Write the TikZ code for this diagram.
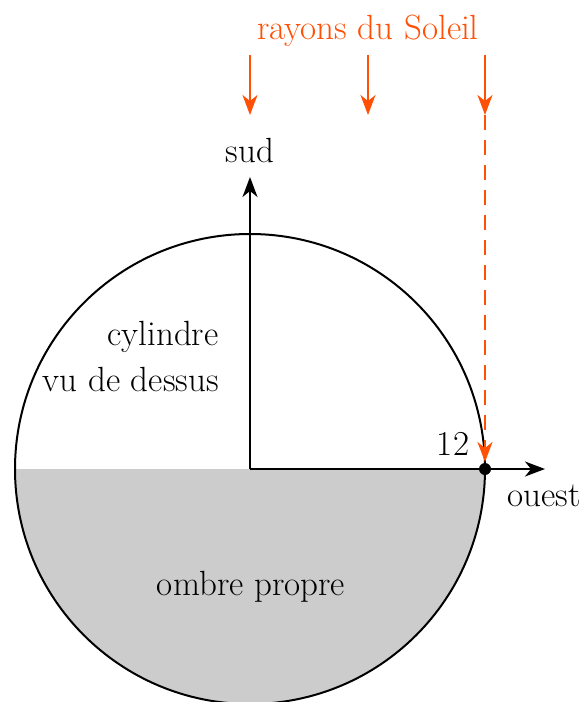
\documentclass[tikz,border=0pt]{standalone}
\usetikzlibrary{arrows.meta}
\definecolor{sunray}{RGB}{255,80,5}
\definecolor{shadegray}{RGB}{204,204,204}
\begin{document}
\begin{tikzpicture}[x=0.5pt,y=-0.5pt,
  lbl/.style={font=\fontsize{17.5}{21}\selectfont, inner sep=0pt},
  axis/.style={line width=1pt, -{Stealth[length=10pt,width=7.5pt,inset=3pt]}},
  ray/.style={sunray, line width=1pt, -{Stealth[length=10pt,width=7.5pt,inset=3pt]}},
  raydash/.style={ray, dash pattern=on 7.5pt off 5pt}]
\useasboundingbox (0,0) rectangle (584,702);
\coordinate (O) at (250,469);
\coordinate (W) at (485,469);
\coordinate (L) at (15,469);
\coordinate (S) at (250,177);
\coordinate (E) at (545,469);
% shaded lower half
\fill[shadegray] (L) arc[start angle=180, end angle=360, radius=117.5pt] -- cycle;
\draw[line width=1pt] (O) circle[radius=117.5pt];
% axes
\draw[axis] (O) -- (S);
\draw[axis] (O) -- (E);
\fill (W) circle[radius=3pt];
% labels
\node[lbl] (sud) at (250,150) {sud};
\node[lbl] (ouest) at (544,496) {ouest};
\node[lbl] (twelve) at (453,444) {12};
\node[lbl, align=right, anchor=east] (cyl) at (219,356) {cylindre\\[2pt]vu de dessus};
\node[lbl] (ombre) at (251,587) {ombre propre};
\node[lbl, text=sunray] (rayons) at (368,31) {rayons du Soleil};
% sun rays
\coordinate (r1a) at (250,55); \coordinate (r1b) at (250,115);
\coordinate (r2a) at (368,55); \coordinate (r2b) at (368,115);
\coordinate (r3a) at (485,55); \coordinate (r3b) at (485,115);
\coordinate (r3c) at (485,462);
\draw[ray] (r1a) -- (r1b);
\draw[ray] (r2a) -- (r2b);
\draw[ray] (r3a) -- (r3b);
\draw[raydash] (r3b) -- (r3c);
\end{tikzpicture}
\end{document}
